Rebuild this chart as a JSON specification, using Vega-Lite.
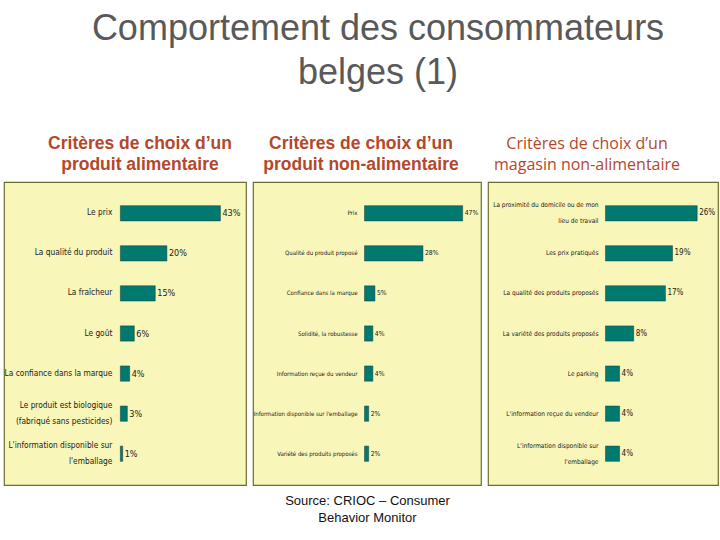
{
  "$schema": "https://vega.github.io/schema/vega-lite/v6.json",
  "background": "white",
  "padding": {"left": 3, "top": 10, "right": 3, "bottom": 5},
  "bounds": "flush",
  "title": {
    "text": ["Comportement des consommateurs", "belges (1)"],
    "font": "Liberation Sans",
    "fontSize": 36,
    "fontWeight": "normal",
    "color": "#595959",
    "lineHeight": 44,
    "anchor": "start",
    "align": "center",
    "frame": "group",
    "dx": 374,
    "offset": 42
  },
  "datasets": {
    "alim": [
      {"critere": "Le prix", "pct": 43, "label": "43%"},
      {"critere": "La qualité du produit", "pct": 20, "label": "20%"},
      {"critere": "La fraîcheur", "pct": 15, "label": "15%"},
      {"critere": "Le goût", "pct": 6, "label": "6%"},
      {"critere": "La confiance dans la marque", "pct": 4, "label": "4%"},
      {"critere": "Le produit est biologique\n(fabriqué sans pesticides)", "pct": 3, "label": "3%"},
      {"critere": "L'information disponible sur\nl'emballage", "pct": 1, "label": "1%"}
    ],
    "nonalim": [
      {"critere": "Prix", "pct": 47, "label": "47%"},
      {"critere": "Qualité du produit proposé", "pct": 28, "label": "28%"},
      {"critere": "Confiance dans la marque", "pct": 5, "label": "5%"},
      {"critere": "Solidité, la robustesse", "pct": 4, "label": "4%"},
      {"critere": "Information reçue du vendeur", "pct": 4, "label": "4%"},
      {"critere": "Information disponible sur l'emballage", "pct": 2, "label": "2%"},
      {"critere": "Variété des produits proposés", "pct": 2, "label": "2%"}
    ],
    "magasin": [
      {"critere": "La proximité du domicile ou de mon\nlieu de travail", "pct": 26, "label": "26%"},
      {"critere": "Les prix pratiqués", "pct": 19, "label": "19%"},
      {"critere": "La qualité des produits proposés", "pct": 17, "label": "17%"},
      {"critere": "La variété des produits proposés", "pct": 8, "label": "8%"},
      {"critere": "Le parking", "pct": 4, "label": "4%"},
      {"critere": "L'information reçue du vendeur", "pct": 4, "label": "4%"},
      {"critere": "L'information disponible sur\nl'emballage", "pct": 4, "label": "4%"}
    ]
  },
  "hconcat": [
    {
      "width": 242,
      "height": 303,
      "title": {"text": ["Critères de choix d’un", "produit alimentaire"], "dx": 15},
      "data": {"name": "alim"},
      "encoding": {
        "y": {"field": "critere", "type": "nominal", "sort": null, "axis": null,
              "scale": {"paddingInner": 0.62, "paddingOuter": 0.59}}
      },
      "layer": [
        {"mark": {"type": "bar", "color": "#00796F", "stroke": "#1E3B36", "strokeWidth": 0.5},
         "encoding": {"x": {"field": "pct", "type": "quantitative", "axis": null,
                            "scale": {"domain": [-50, 54], "nice": false, "zero": false}}}},
        {"mark": {"type": "text", "align": "left", "dx": 2, "font": "DejaVu Sans Condensed, Liberation Sans, sans-serif", "fontSize": 9, "color": "#222222"},
         "encoding": {"x": {"field": "pct", "type": "quantitative"}, "text": {"field": "label"}}},
        {"transform": [{"filter": "indexof(datum.critere, '\\n') < 0"}],
         "mark": {"type": "text", "align": "right", "dx": -8, "font": "DejaVu Sans Condensed, Liberation Sans, sans-serif", "fontSize": 8.3, "color": "#222222"},
         "encoding": {"x": {"datum": 0}, "text": {"field": "critere"}}},
        {"transform": [{"filter": "indexof(datum.critere, '\\n') >= 0"}],
         "mark": {"type": "text", "align": "right", "dx": -8, "dy": -8, "font": "DejaVu Sans Condensed, Liberation Sans, sans-serif", "fontSize": 8.3, "color": "#222222", "lineBreak": "\n", "lineHeight": 16},
         "encoding": {"x": {"datum": 0}, "text": {"field": "critere"}}}
      ]
    },
    {
      "width": 228,
      "height": 303,
      "title": {"text": ["Critères de choix d’un", "produit non-alimentaire"], "dx": -6},
      "data": {"name": "nonalim"},
      "encoding": {
        "y": {"field": "critere", "type": "nominal", "sort": null, "axis": null,
              "scale": {"paddingInner": 0.62, "paddingOuter": 0.59}}
      },
      "layer": [
        {"mark": {"type": "bar", "color": "#00796F", "stroke": "#1E3B36", "strokeWidth": 0.5},
         "encoding": {"x": {"field": "pct", "type": "quantitative",
                            "scale": {"domain": [-53.4, 55.8], "nice": false, "zero": false},
                            "axis": {"labels": false, "ticks": false, "domain": false, "grid": false,
                                     "title": ["Source: CRIOC – Consumer", "Behavior Monitor"],
                                     "titleFont": "Liberation Sans", "titleFontSize": 13, "titleFontWeight": "normal",
                                     "titleColor": "#111111", "titlePadding": 9, "titleLineHeight": 17}}}},
        {"mark": {"type": "text", "align": "left", "dx": 2, "font": "DejaVu Sans Condensed, Liberation Sans, sans-serif", "fontSize": 6.8, "color": "#222222"},
         "encoding": {"x": {"field": "pct", "type": "quantitative"}, "text": {"field": "label"}}},
        {"mark": {"type": "text", "align": "right", "dx": -7, "font": "DejaVu Sans Condensed, Liberation Sans, sans-serif", "fontSize": 6, "color": "#222222"},
         "encoding": {"x": {"datum": 0}, "text": {"field": "critere"}}}
      ]
    },
    {
      "width": 230,
      "height": 303,
      "title": {"text": ["Critères de choix d’un", "magasin non-alimentaire"], "fontWeight": "normal", "fontSize": 16, "font": "Open Sans", "dx": -16},
      "data": {"name": "magasin"},
      "encoding": {
        "y": {"field": "critere", "type": "nominal", "sort": null, "axis": null,
              "scale": {"paddingInner": 0.62, "paddingOuter": 0.59}}
      },
      "layer": [
        {"mark": {"type": "bar", "color": "#00796F", "stroke": "#1E3B36", "strokeWidth": 0.5},
         "encoding": {"x": {"field": "pct", "type": "quantitative", "axis": null,
                            "scale": {"domain": [-33.3, 31.9], "nice": false, "zero": false}}}},
        {"mark": {"type": "text", "align": "left", "dx": 2, "font": "DejaVu Sans Condensed, Liberation Sans, sans-serif", "fontSize": 8, "color": "#222222"},
         "encoding": {"x": {"field": "pct", "type": "quantitative"}, "text": {"field": "label"}}},
        {"transform": [{"filter": "indexof(datum.critere, '\\n') < 0"}],
         "mark": {"type": "text", "align": "right", "dx": -7, "font": "DejaVu Sans Condensed, Liberation Sans, sans-serif", "fontSize": 6.5, "color": "#222222"},
         "encoding": {"x": {"datum": 0}, "text": {"field": "critere"}}},
        {"transform": [{"filter": "indexof(datum.critere, '\\n') >= 0"}],
         "mark": {"type": "text", "align": "right", "dx": -7, "dy": -8, "font": "DejaVu Sans Condensed, Liberation Sans, sans-serif", "fontSize": 6.5, "color": "#222222", "lineBreak": "\n", "lineHeight": 16},
         "encoding": {"x": {"datum": 0}, "text": {"field": "critere"}}}
      ]
    }
  ],
  "spacing": 7,
  "config": {
    "view": {"fill": "#F8F6B8", "stroke": "#6B6E2E", "strokeWidth": 1.2},
    "title": {"font": "Liberation Sans", "fontSize": 17.5, "fontWeight": "bold", "color": "#B5472A", "lineHeight": 21, "anchor": "middle", "offset": 9}
  }
}
